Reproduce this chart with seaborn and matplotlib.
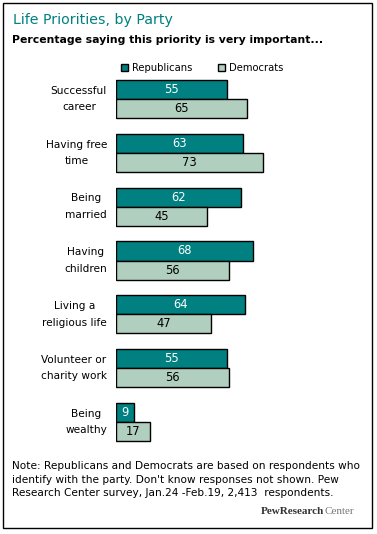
import numpy as np
import pandas as pd
import matplotlib
matplotlib.use('Agg')
import matplotlib.pyplot as plt
from matplotlib.patches import Patch, Rectangle
import seaborn as sns

# Data
categories = ['Successful\ncareer', 'Having free\ntime', 'Being\nmarried',
              'Having\nchildren', 'Living a\nreligious life',
              'Volunteer or\ncharity work', 'Being\nwealthy']
republicans = [55, 63, 62, 68, 64, 55, 9]
democrats = [65, 73, 45, 56, 47, 56, 17]
parties = ['Republicans', 'Democrats']

teal = '#008080'
sage = '#b0cfbf'

sns.set_style('white')
plt.rcParams['font.family'] = ['DejaVu Sans']
plt.rcParams['text.color'] = 'black'
plt.rcParams['ytick.color'] = 'black'

# Tidy data
df = pd.DataFrame({
    'priority': categories * 2,
    'party': ['Republicans'] * len(categories) + ['Democrats'] * len(categories),
    'pct': republicans + democrats,
})

fig = plt.figure(figsize=(3.77, 5.34), dpi=100)
ax = fig.add_axes([116 / 377, 1 - 449 / 534, 202 / 377, 377 / 534])

sns.barplot(data=df, y='priority', x='pct', hue='party', hue_order=parties,
            order=categories, orient='h', palette={'Republicans': teal, 'Democrats': sage},
            saturation=1, width=0.71, edgecolor='black', linewidth=1, legend=False, ax=ax)

ax.set_xlim(0, 100)
ax.set_ylim(6.5, -0.5)
ax.set_xlabel('')
ax.set_ylabel('')
ax.set_xticks([])
for s in ax.spines.values():
    s.set_visible(False)
ax.tick_params(axis='y', length=0, pad=6.5, labelcolor='black')
for lab in ax.get_yticklabels():
    lab.set_multialignment('center')
    lab.set_fontsize(7.6)
    lab.set_linespacing(1.8)
    lab.set_verticalalignment('center')

# value labels in bars
for cont, col in zip(ax.containers, ['white', 'black']):
    ax.bar_label(cont, label_type='center', color=col, fontsize=8.3)

# legend
handles = [Patch(facecolor=teal, edgecolor='black', label='Republicans'),
           Patch(facecolor=sage, edgecolor='black', label='Democrats')]
fig.legend(handles=handles, loc='center left', bbox_to_anchor=(121 / 377, 1 - 68 / 534),
           ncol=2, frameon=False, fontsize=7.2, handlelength=0.7, handleheight=0.7,
           handletextpad=0.4, columnspacing=2.6, borderaxespad=0, borderpad=0)

# titles
fig.text(13 / 377, 1 - 20 / 534, 'Life Priorities, by Party', color=teal,
         fontsize=10.2, fontweight='medium', va='center')
fig.text(12 / 377, 1 - 40 / 534, 'Percentage saying this priority is very important...',
         color='black', fontsize=7.8, fontweight='bold', va='center')

# note
note = ("Note: Republicans and Democrats are based on respondents who\n"
        "identify with the party. Don't know responses not shown. Pew\n"
        "Research Center survey, Jan.24 -Feb.19, 2,413  respondents.")
fig.text(12 / 377, 1 - 461 / 534, note, fontsize=7.6, va='top', linespacing=1.45)

# logo
logo = fig.text(261 / 377, 1 - 512 / 534, 'PewResearch', fontsize=8, family='Liberation Serif',
                fontweight='bold', color='#333333', ha='left', va='center')
ax.annotate('Center', xy=(1, 0), xycoords=logo, va='bottom', ha='left',
            fontsize=8, family='Liberation Serif', color='#777777', annotation_clip=False)

# frame around the whole graphic
fig.patches.append(Rectangle((3 / 377, 6 / 534), 369 / 377, 525 / 534,
                             transform=fig.transFigure, fill=False,
                             edgecolor='black', linewidth=1))

fig.savefig('out.png', dpi=100)
